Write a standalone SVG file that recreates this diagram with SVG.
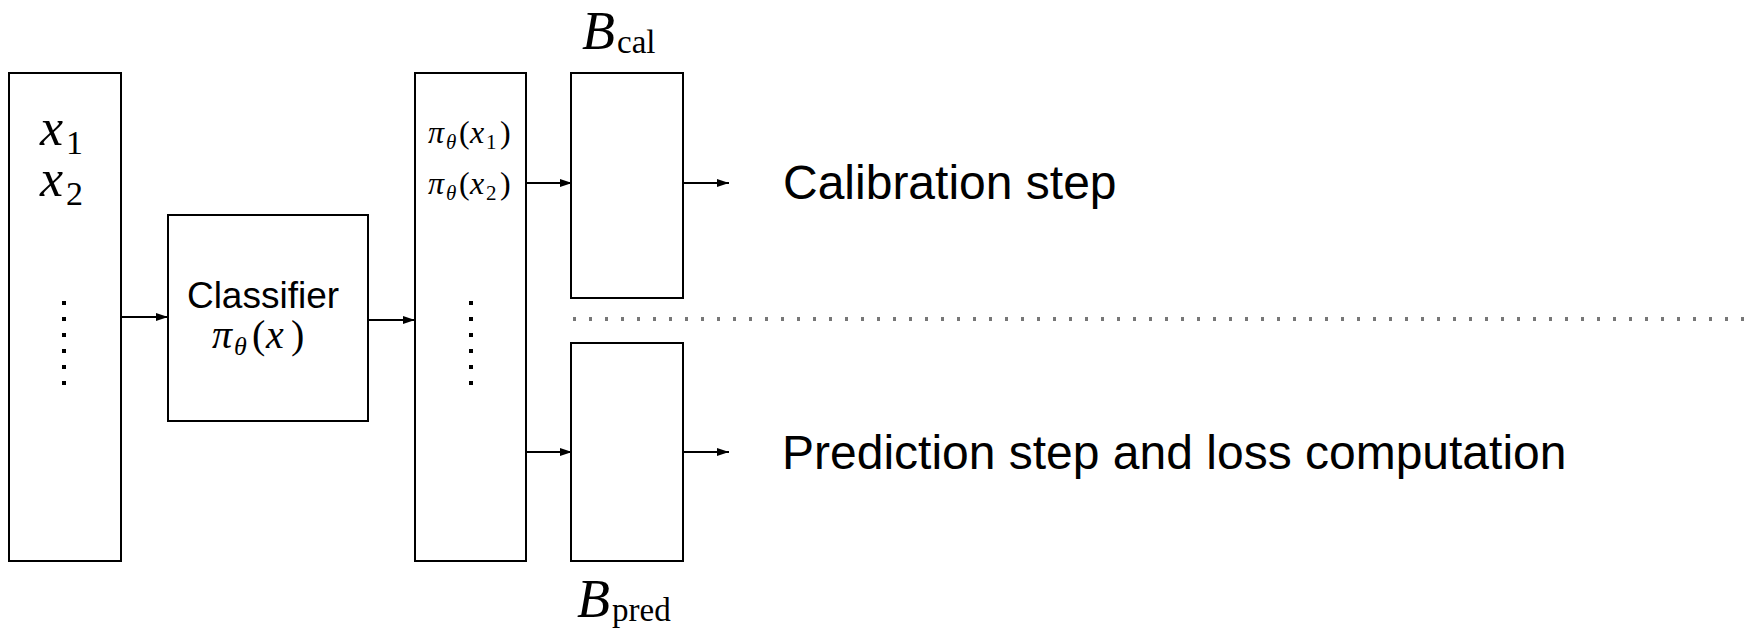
<svg xmlns="http://www.w3.org/2000/svg" width="1754" height="632" viewBox="0 0 1754 632">
<defs>
<marker id="ah" viewBox="0 0 12 8" refX="12" refY="4" markerWidth="12" markerHeight="8" markerUnits="userSpaceOnUse" orient="auto">
<path d="M0,0 L12,4 L0,8 z" fill="#000"/>
</marker>
</defs>
<style>
.box{fill:#fff;stroke:#000;stroke-width:2}
.conn{stroke:#000;stroke-width:1.8;fill:none;marker-end:url(#ah)}
.sans{font-family:"Liberation Sans",Arial,sans-serif;fill:#000}
.math{font-family:"Liberation Serif","Times New Roman",serif;fill:#000}
.it{font-style:italic}
.dot{fill:#000}
.sep{stroke:#777;stroke-width:4;stroke-dasharray:3 13;fill:none}
</style>
<rect width="1754" height="632" fill="#fff"/>

<g id="inputs">
<rect class="box" x="9" y="73" width="112" height="488"/>
<text class="math" font-size="52"><tspan class="it" x="40" y="145">x</tspan><tspan font-size="34" x="66" y="154">1</tspan><tspan class="it" x="40" y="196">x</tspan><tspan font-size="34" x="66" y="205">2</tspan></text>
<rect class="dot" x="62" y="301" width="4" height="4"/>
<rect class="dot" x="62" y="317" width="4" height="4"/>
<rect class="dot" x="62" y="333" width="4" height="4"/>
<rect class="dot" x="62" y="349" width="4" height="4"/>
<rect class="dot" x="62" y="365" width="4" height="4"/>
<rect class="dot" x="62" y="381" width="4" height="4"/>
</g>

<g id="classifier">
<rect class="box" x="168" y="215" width="200" height="206"/>
<text class="sans" x="263" y="308" font-size="37" text-anchor="middle">Classifier</text>
<text class="math" font-size="40"><tspan class="it" x="212" y="348">π</tspan><tspan class="it" font-size="26" x="234" y="355">θ</tspan><tspan x="252" y="348">(</tspan><tspan class="it" x="266" y="348">x</tspan><tspan x="291" y="348">)</tspan></text>
</g>

<g id="outputs">
<rect class="box" x="415" y="73" width="111" height="488"/>
<text class="math" font-size="32"><tspan class="it" x="428" y="143">π</tspan><tspan class="it" font-size="21" x="446" y="149">θ</tspan><tspan x="459" y="143">(</tspan><tspan class="it" x="470" y="143">x</tspan><tspan font-size="21" x="486" y="149">1</tspan><tspan x="500" y="143">)</tspan></text>
<text class="math" font-size="32"><tspan class="it" x="428" y="194">π</tspan><tspan class="it" font-size="21" x="446" y="200">θ</tspan><tspan x="459" y="194">(</tspan><tspan class="it" x="470" y="194">x</tspan><tspan font-size="21" x="486" y="200">2</tspan><tspan x="500" y="194">)</tspan></text>
<rect class="dot" x="469" y="301" width="4" height="4"/>
<rect class="dot" x="469" y="317" width="4" height="4"/>
<rect class="dot" x="469" y="333" width="4" height="4"/>
<rect class="dot" x="469" y="349" width="4" height="4"/>
<rect class="dot" x="469" y="365" width="4" height="4"/>
<rect class="dot" x="469" y="381" width="4" height="4"/>
</g>

<g id="bcal">
<rect class="box" x="571" y="73" width="112" height="225"/>
<text class="math" font-size="54"><tspan class="it" x="582" y="49">B</tspan><tspan font-size="33" x="617" y="53">cal</tspan></text>
</g>

<g id="bpred">
<rect class="box" x="571" y="343" width="112" height="218"/>
<text class="math" font-size="54"><tspan class="it" x="577" y="617">B</tspan><tspan font-size="33" x="612" y="621">pred</tspan></text>
</g>

<g id="calibration-label">
<text class="sans" x="783" y="199" font-size="48">Calibration step</text>
</g>

<g id="prediction-label">
<text class="sans" x="782" y="469" font-size="48">Prediction step and loss computation</text>
</g>

<g id="separator">
<line class="sep" x1="573" y1="319" x2="1752" y2="319"/>
</g>

<g id="connectors">
<line class="conn" x1="121" y1="317" x2="168" y2="317"/>
<line class="conn" x1="368" y1="320" x2="415" y2="320"/>
<line class="conn" x1="526" y1="183" x2="572" y2="183"/>
<line class="conn" x1="683" y1="183" x2="729" y2="183"/>
<line class="conn" x1="526" y1="452" x2="572" y2="452"/>
<line class="conn" x1="683" y1="452" x2="729" y2="452"/>
</g>
</svg>
